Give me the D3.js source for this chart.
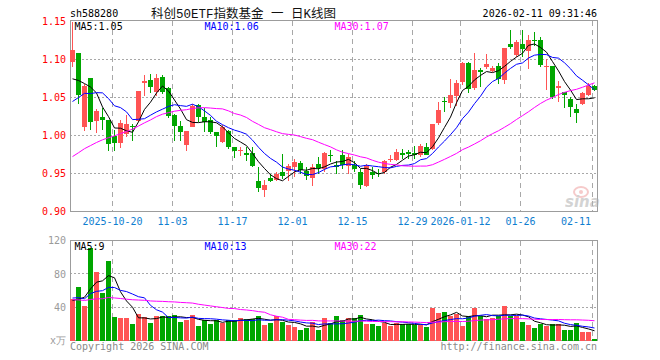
<!DOCTYPE html>
<html><head><meta charset="utf-8">
<script src="https://cdn.jsdelivr.net/npm/d3@7/dist/d3.min.js"></script>
<style>body{margin:0;background:#fff}svg{display:block}</style>
</head><body><svg id="c" width="660" height="360"></svg>
<script>
const symbol = "sh588280";
const title = "科创50ETF指数基金 一 日K线图";
const timestamp = "2026-02-11 09:31:46";
const copyright = "Copyright 2026 SINA.COM";
const siteUrl = "http://finance.sina.com.cn";

const dates = [
"2025-10-09","2025-10-10","2025-10-13","2025-10-14","2025-10-15","2025-10-16","2025-10-17","2025-10-20","2025-10-21","2025-10-22",
"2025-10-23","2025-10-24","2025-10-27","2025-10-28","2025-10-29","2025-10-30","2025-10-31","2025-11-03","2025-11-04","2025-11-05",
"2025-11-06","2025-11-07","2025-11-10","2025-11-11","2025-11-12","2025-11-13","2025-11-14","2025-11-17","2025-11-18","2025-11-19",
"2025-11-20","2025-11-21","2025-11-24","2025-11-25","2025-11-26","2025-11-27","2025-11-28","2025-12-01","2025-12-02","2025-12-03",
"2025-12-04","2025-12-05","2025-12-08","2025-12-09","2025-12-10","2025-12-11","2025-12-12","2025-12-15","2025-12-16","2025-12-17",
"2025-12-18","2025-12-19","2025-12-22","2025-12-23","2025-12-24","2025-12-25","2025-12-26","2025-12-29","2025-12-30","2025-12-31",
"2026-01-05","2026-01-06","2026-01-07","2026-01-08","2026-01-09","2026-01-12","2026-01-13","2026-01-14","2026-01-15","2026-01-16",
"2026-01-19","2026-01-20","2026-01-21","2026-01-22","2026-01-23","2026-01-26","2026-01-27","2026-01-28","2026-01-29","2026-01-30",
"2026-02-02","2026-02-03","2026-02-04","2026-02-05","2026-02-06","2026-02-09","2026-02-10","2026-02-11"];

const opens = [1.0965,1.108,1.011,1.075,1.019,1.025,1.020,0.999,0.990,1.002,
1.013,1.019,1.069,1.073,1.057,1.0776,1.0623,1.0276,1.0123,0.987,
1.0118,1.0404,1.0241,1.021,1.0044,0.9912,1.0053,0.9855,0.9794,0.9768,
0.9772,0.9395,0.9289,0.9439,0.9417,0.9526,0.9531,0.9583,0.9636,0.9531,
0.9443,0.9627,0.9553,0.9750,0.9618,0.9737,0.9605,0.9614,0.9518,0.9333,
0.9526,0.9504,0.9518,0.9680,0.9684,0.9768,0.9789,0.9772,0.9737,0.9846,
0.9825,1.0167,1.0456,1.0430,1.0526,1.0702,1.0952,1.0623,1.0864,1.0899,
1.0855,1.0908,1.0724,1.1206,1.1061,1.1206,1.1118,1.1263,1.1250,1.0908,
1.0908,1.0623,1.0570,1.0482,1.0351,1.0417,1.0539,1.0649];
const highs = [1.150,1.108,1.068,1.076,1.035,1.036,1.020,1.0075,1.020,1.027,
1.0145,1.059,1.079,1.081,1.081,1.079,1.0636,1.0285,1.0197,1.0053,
1.0417,1.0417,1.0364,1.024,1.0044,1.014,1.0066,0.9855,0.9846,0.9846,
0.9846,0.9583,0.9408,0.9496,0.9518,0.9759,0.9627,0.9693,0.9671,0.9583,
0.9627,0.9715,0.9781,0.9803,0.9671,0.9803,0.9759,0.9671,0.9553,0.9627,
0.9583,0.9553,0.9680,0.9737,0.9825,0.9825,0.9803,0.9860,0.9882,0.9904,
1.0154,1.0439,1.0513,1.0746,1.0724,1.0965,1.0965,1.1088,1.0890,1.1066,
1.0921,1.0952,1.1149,1.1390,1.1250,1.1382,1.1316,1.1360,1.1294,1.1009,
1.0921,1.0711,1.0570,1.0504,1.0417,1.0570,1.0693,1.0667];
const lows = [1.090,1.042,1.006,1.0075,1.003,1.007,0.980,0.980,0.984,0.998,
0.9925,1.0175,1.0526,1.056,1.0526,1.055,1.0232,0.9925,0.9925,0.980,
1.011,1.0175,1.004,1.002,0.9846,0.990,0.9825,0.9706,0.9724,0.9671,
0.9583,0.9254,0.9189,0.9386,0.9399,0.9430,0.9399,0.9452,0.9496,0.9408,
0.9333,0.9496,0.9518,0.9649,0.9496,0.9561,0.9496,0.9518,0.9298,0.9320,
0.9430,0.9452,0.9496,0.9649,0.9671,0.9693,0.9693,0.9693,0.9715,0.9737,
0.9803,1.0140,1.0307,1.0364,1.0382,1.0667,1.0557,1.0605,1.0636,1.0877,
1.0842,1.0680,1.0680,1.1140,1.1031,1.1031,1.0877,1.1184,1.0899,1.0605,
1.0482,1.0447,1.0364,1.0241,1.0167,1.0395,1.0526,1.0583];
const closes = [1.113,1.053,1.0645,1.0175,1.032,1.021,0.989,0.990,1.016,1.015,
1.011,1.058,1.0715,1.0636,1.0754,1.057,1.0254,1.012,1.0044,1.0053,
1.039,1.0241,1.0175,1.0044,0.9987,1.0118,0.9855,0.980,0.9811,0.975,
0.9605,0.9307,0.9355,0.9399,0.9496,0.9465,0.9596,0.9645,0.9548,0.9461,
0.9583,0.9575,0.9772,0.9732,0.9592,0.9618,0.9715,0.9553,0.9355,0.9596,
0.9474,0.9487,0.9662,0.9693,0.9781,0.9750,0.9759,0.9750,0.9860,0.9746,
1.0145,1.0342,1.0439,1.0539,1.0689,1.0952,1.0614,1.0864,1.0833,1.0943,
1.0886,1.0737,1.1149,1.1162,1.1228,1.1132,1.1259,1.1241,1.0930,1.0921,
1.0513,1.0645,1.0539,1.0373,1.0294,1.0561,1.0649,1.0601];
// volume, unit 万
const volumes = [49.6,64.4,41.6,111.6,82.8,57.6,95.6,28.8,27.6,27.6,
20,32,28.4,21.2,30,29.6,29.6,30.8,22.4,25.2,
30.8,17.6,25.2,20,24.8,21.2,24.8,24.4,27.2,26,
26.4,29.2,18.8,21.2,29.6,22.4,18.8,16.4,12.8,15.6,
22.8,12.8,27.2,20.8,29.6,24.8,26.8,26.8,30.8,20,
20,17.6,20.8,17.6,20.8,19.6,19.6,18.8,18.8,16.8,
39.6,33.2,34.4,29.6,32,18,29.6,39.6,29.6,25.6,
27.6,29.6,41.6,29.6,29.6,22.4,18.8,15.2,20.4,18,
20,20,13.2,13.2,21.2,10.8,10.8,2.4];
// sessions before the visible window (estimated so the moving averages start where the picture shows)
const priorCloses = [0.900,0.905,0.895,0.910,0.915,0.905,0.920,0.925,0.930,0.920,0.935,0.945,0.950,0.945,0.960,0.965,0.955,0.970,0.980,0.990,1.00,1.01,1.02,1.02,1.024,1.064,1.085,1.040,1.071];
const priorVolumes = [70,65,75,60,55,50,45,48,52,40,42,38,45,40,35,42,38,40,36,44,60,55,50,55,50,56,30,62,42];

const maPeriods = [5,10,30];
const maColors = ["#000000","#0000ff","#ff00ff"];
const priceTicks = [0.90,0.95,1.00,1.05,1.10,1.15];
const volumeTicks = [0,40,80,120];
const volumeMaLegend = [9,13,22];
const dateTicks = ["2025-10-20","2025-11-03","2025-11-17","2025-12-01","2025-12-15","2025-12-29","2026-01-12","2026-01-26","2026-02-11"];

const svg = d3.select("#c");
const mono = "'DejaVu Sans Mono','Liberation Mono',monospace";
const upColor = "#ff5454", downColor = "#00a600";
const gridColor = "#a8a8a8", frameColor = "#9c9c9c";

const x = d3.scaleLinear().domain([0, dates.length]).range([70, 598]);
const y = d3.scaleLinear().domain([0.90, 1.15]).range([211.5, 21.5]);
const yv = d3.scaleLinear().domain([0, 120]).range([340.5, 240.5]);
const crisp = v => Math.round(v - 0.5) + 0.5;

function movingAverage(prior, vals, n) {
  const all = prior.concat(vals), off = prior.length;
  return vals.map((_, i) => d3.mean(all.slice(off + i - n + 1, off + i + 1)));
}
const priceMA = maPeriods.map(n => movingAverage(priorCloses, closes, n));
const volMA = maPeriods.map(n => movingAverage(priorVolumes, volumes, n));
const idx = d3.range(dates.length);
const tickIdx = dateTicks.map(d => dates.indexOf(d));

// header
svg.append("text").attr("x", 70).attr("y", 16.8).attr("font-family", mono).attr("font-size", 10).text(symbol);
svg.append("text").attr("x", 151).attr("y", 17.5).attr("xml:space", "preserve").style("white-space", "pre")
  .attr("font-family", "'Liberation Mono','Noto Sans CJK SC',monospace").attr("font-size", 12.5).attr("fill", "#111").text(title);
svg.append("text").attr("x", 597).attr("y", 16.8).attr("text-anchor", "end").attr("font-family", mono).attr("font-size", 10).text(timestamp);

function panelGrid(ys, top, bottom, hTicks) {
  const g = svg.append("g");
  g.selectAll("line.h").data(hTicks).join("line")
    .attr("x1", 70).attr("x2", 598).attr("y1", d => crisp(ys(d))).attr("y2", d => crisp(ys(d)))
    .attr("stroke", gridColor).attr("stroke-dasharray", "2,2");
  g.selectAll("line.v").data(tickIdx).join("line")
    .attr("x1", d => x(d) + 0.5).attr("x2", d => x(d) + 0.5).attr("y1", top).attr("y2", bottom)
    .attr("stroke", gridColor).attr("stroke-dasharray", "5,4");
  svg.append("rect").attr("x", 70.5).attr("y", top - 0.5).attr("width", 527).attr("height", bottom - top + 1)
    .attr("fill", "none").attr("stroke", frameColor);
}
panelGrid(y, 21, 211, [0.95, 1.00, 1.05, 1.10]);
panelGrid(yv, 241, 340, [40, 80]);

// watermark
const wm = svg.append("g").attr("opacity", 0.55);
wm.append("ellipse").attr("cx", 581).attr("cy", 192).attr("rx", 7).attr("ry", 5).attr("fill", "none").attr("stroke", "#f0a0a0").attr("stroke-width", 2);
wm.append("circle").attr("cx", 581).attr("cy", 192).attr("r", 2).attr("fill", "#f0a0a0");
wm.append("text").attr("x", 565).attr("y", 207).attr("font-family", "'DejaVu Sans',sans-serif").attr("font-weight", "bold").attr("font-style", "italic").attr("font-size", 15).attr("fill", "#b0b0b0").text("sina");

// axes
const yAxis = svg.append("g").attr("transform", "translate(70,0)")
  .call(d3.axisLeft(y).tickValues(priceTicks).tickSize(0).tickPadding(4).tickFormat(d3.format(".2f")));
yAxis.select(".domain").remove();
yAxis.selectAll("text").attr("fill", "#ff0000").attr("font-family", mono).attr("font-size", 10);

const vAxis = svg.append("g").attr("transform", "translate(70,0)")
  .call(d3.axisLeft(yv).tickValues(volumeTicks).tickSize(0).tickPadding(4).tickFormat(d => d === 0 ? "x万" : d));
vAxis.select(".domain").remove();
vAxis.selectAll("text").attr("fill", "#9a9a9a").attr("font-family", mono).attr("font-size", 10);

const parse = d3.timeParse("%Y-%m-%d");
const xAxis = svg.append("g").attr("transform", "translate(0,211)")
  .call(d3.axisBottom(x).tickValues(tickIdx).tickSize(0).tickPadding(7)
    .tickFormat((d, k) => {
      const dt = parse(dates[d]);
      const prev = k > 0 ? parse(dates[tickIdx[k - 1]]) : null;
      return (!prev || prev.getFullYear() !== dt.getFullYear()) ? d3.timeFormat("%Y-%m-%d")(dt) : d3.timeFormat("%m-%d")(dt);
    }));
xAxis.select(".domain").remove();
xAxis.selectAll("text").attr("fill", "#0f7ed0").attr("font-family", mono).attr("font-size", 10);
xAxis.selectAll(".tick").filter((d, k) => k === tickIdx.length - 1).select("text").attr("text-anchor", "end").attr("dx", -1.5);

// candles
const isUp = i => closes[i] >= opens[i];
const cg = svg.append("g");
cg.selectAll("line").data(idx).join("line")
  .attr("x1", i => x(i) + 2.5).attr("x2", i => x(i) + 2.5)
  .attr("y1", i => Math.round(y(highs[i]))).attr("y2", i => Math.round(y(lows[i])))
  .attr("stroke", i => isUp(i) ? upColor : downColor);
cg.selectAll("rect").data(idx).join("rect")
  .attr("x", i => x(i)).attr("width", 5)
  .attr("y", i => Math.round(y(Math.max(opens[i], closes[i]))))
  .attr("height", i => Math.max(1, Math.round(y(Math.min(opens[i], closes[i]))) - Math.round(y(Math.max(opens[i], closes[i])))))
  .attr("fill", i => isUp(i) ? upColor : downColor);

// volume bars
svg.append("g").selectAll("rect").data(idx).join("rect")
  .attr("x", i => x(i)).attr("width", 5)
  .attr("y", i => Math.round(yv(volumes[i])))
  .attr("height", i => 341 - Math.round(yv(volumes[i])))
  .attr("fill", i => isUp(i) ? upColor : downColor);

// moving average lines
const lineP = d3.line().x((d, i) => x(i) + 2.5).y(d => y(d));
const lineV = d3.line().x((d, i) => x(i) + 2.5).y(d => yv(d));
priceMA.forEach((m, k) => svg.append("path").attr("d", lineP(m)).attr("fill", "none").attr("stroke", maColors[k]).attr("stroke-width", 1));
volMA.forEach((m, k) => svg.append("path").attr("d", lineV(m)).attr("fill", "none").attr("stroke", maColors[k]).attr("stroke-width", 1));

// legends
const legX = [74.5, 204.5, 334.5];
maPeriods.forEach((n, k) => {
  svg.append("text").attr("x", legX[k]).attr("y", 29.8).attr("font-family", mono).attr("font-size", 10)
    .attr("fill", maColors[k]).text(`MA${n}:${priceMA[k][priceMA[k].length - 1].toFixed(2)}`);
  svg.append("text").attr("x", legX[k]).attr("y", 249.6).attr("font-family", mono).attr("font-size", 10)
    .attr("fill", maColors[k]).text(`MA${n}:${volumeMaLegend[k]}`);
});

// footer
svg.append("text").attr("x", 70).attr("y", 349.5).attr("font-family", mono).attr("font-size", 10).attr("fill", "#8a8a8a").text(copyright);
svg.append("text").attr("x", 597).attr("y", 349.5).attr("text-anchor", "end").attr("font-family", mono).attr("font-size", 10).attr("fill", "#8a8a8a").text(siteUrl);
</script></body></html>
